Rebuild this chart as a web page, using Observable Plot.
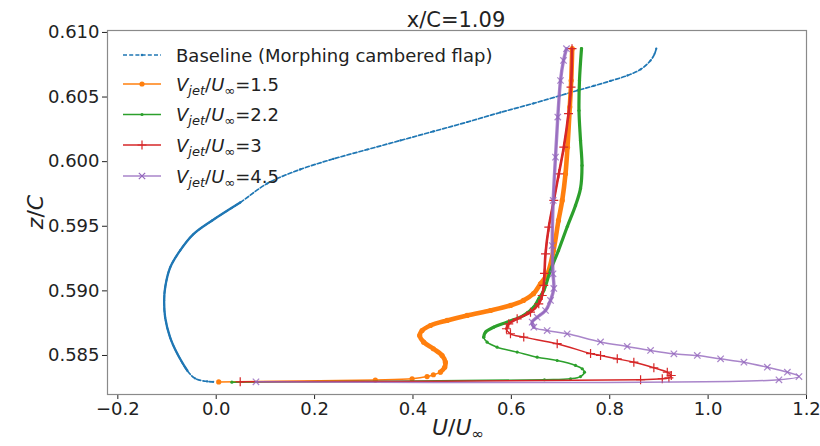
<!DOCTYPE html>
<html><head><meta charset="utf-8">
<script src="https://cdn.jsdelivr.net/npm/d3@7"></script>
<script src="https://cdn.jsdelivr.net/npm/@observablehq/plot@0.6"></script>
<style>html,body{margin:0;padding:0;background:#fff;} svg{display:block}</style>
</head><body><div id="chart"></div>
<script>
// ---- data (U/U∞ , z/C) ----
const titleText = "x/C=1.09";
const xTicks = [-0.2, 0.0, 0.2, 0.4, 0.6, 0.8, 1.0, 1.2];
const yTicks = [0.585, 0.590, 0.595, 0.600, 0.605, 0.610];

const baselineLabel = "Baseline (Morphing cambered flap)";
const jetRatios = ["1.5", "2.2", "3", "4.5"];

const baseU = [0.8946,0.8912,0.8830,0.8627,0.8362,0.8016,0.7671,0.7345,0.6999,0.6450,0.5778,0.5107,0.4415,0.3744,0.3072,0.2380,0.1709,0.1038,0.0488,-0.0081,-0.0468,-0.0732,-0.0936,-0.1038,-0.1058,-0.1038,-0.0936,-0.0793,-0.0590,-0.0427,-0.0183,-0.0061];
const baseZ = [0.60874,0.60835,0.60783,0.60714,0.60667,0.60625,0.60586,0.60551,0.60512,0.60451,0.60381,0.60307,0.60234,0.60164,0.60094,0.60021,0.59940,0.59831,0.59684,0.59545,0.59437,0.59313,0.59181,0.59026,0.58926,0.58794,0.58639,0.58516,0.58384,0.58322,0.58299,0.58296];

const u15 = [0.0051,0.3235,0.3982,0.4287,0.4415,0.4557,0.4645,0.4659,0.4592,0.4415,0.4218,0.4136,0.4185,0.4354,0.4694,0.5101,0.5575,0.5982,0.6246,0.6450,0.6592,0.6734,0.6857,0.6958,0.7034,0.7101,0.7141,0.7188,0.7217,0.7237];
const z15 = [0.58295,0.58310,0.58320,0.58337,0.58351,0.58371,0.58409,0.58448,0.58500,0.58552,0.58603,0.58655,0.58693,0.58732,0.58771,0.58810,0.58848,0.58887,0.58926,0.58978,0.59055,0.59132,0.59313,0.59545,0.59700,0.59906,0.60112,0.60422,0.60628,0.60874];

const u22 = [0.0319,0.6673,0.7203,0.7406,0.7487,0.7441,0.7304,0.6932,0.6525,0.6118,0.5711,0.5508,0.5438,0.5473,0.5642,0.5915,0.6252,0.6456,0.6557,0.6659,0.6795,0.6958,0.7140,0.7304,0.7406,0.7436,0.7406,0.7375,0.7385,0.7426];
const z22 = [0.58293,0.58312,0.58320,0.58337,0.58371,0.58397,0.58423,0.58461,0.58487,0.58526,0.58564,0.58603,0.58642,0.58680,0.58719,0.58758,0.58810,0.58874,0.58939,0.59003,0.59158,0.59313,0.59500,0.59661,0.59793,0.59971,0.60164,0.60396,0.60628,0.60874];

const u30 = [0.0488,0.8627,0.9068,0.9203,0.9251,0.9170,0.8897,0.8490,0.8153,0.7813,0.7610,0.6932,0.6252,0.5982,0.5900,0.5947,0.6118,0.6389,0.6557,0.6627,0.6659,0.6673,0.6694,0.6761,0.6863,0.6965,0.7066,0.7162,0.7213,0.7233];
const z30 = [0.58296,0.58312,0.58320,0.58327,0.58345,0.58371,0.58405,0.58448,0.58474,0.58500,0.58515,0.58591,0.58642,0.58668,0.58707,0.58745,0.58784,0.58835,0.58900,0.58964,0.59042,0.59135,0.59287,0.59493,0.59700,0.59906,0.60112,0.60371,0.60577,0.60874];

const u45 = [0.0808,1.1440,1.1847,1.1611,1.1204,1.0728,1.0254,0.9780,0.9304,0.8830,0.8356,0.7813,0.7135,0.6728,0.6456,0.6423,0.6525,0.6694,0.6796,0.6863,0.6847,0.6831,0.6851,0.6897,0.6944,0.6999,0.7060,0.7121];
const z45 = [0.58296,0.58312,0.58337,0.58371,0.58409,0.58448,0.58474,0.58500,0.58513,0.58539,0.58570,0.58605,0.58668,0.58693,0.58719,0.58758,0.58796,0.58848,0.58926,0.59019,0.59132,0.59351,0.59700,0.60035,0.60345,0.60628,0.60783,0.60874];

// ---- build tables ----
const toRows = (us, zs) => us.map((u, i) => ({u, z: zs[i]}));
const base = toRows(baseU, baseZ);
const jets = [
  {name: jetRatios[0], rows: toRows(u15, z15), color: "#ff7f0e", symbol: "circle", r: 2.6, fillDot: true, thick: 4.6, from: 0.5836, opacity: 1},
  {name: jetRatios[1], rows: toRows(u22, z22), color: "#2ca02c", symbol: "circle", r: 1.6, fillDot: true, thick: 3.2, from: 0.5863, opacity: 1},
  {name: jetRatios[2], rows: toRows(u30, z30), color: "#d62728", symbol: "plus", r: 3, fillDot: false, thick: 2.6, from: 0.5869, opacity: 1},
  {name: jetRatios[3], rows: toRows(u45, z45), color: "#9467bd", symbol: "times", r: 3, fillDot: false, thick: 3.4, from: 0.5870, opacity: 0.8}
];

const marks = [
  Plot.line(base, {x: "u", y: "z", stroke: "#1f77b4", strokeWidth: 1.7, strokeDasharray: "4,2.2", curve: "catmull-rom"}),
  Plot.line(base.filter(d => d.z > 0.5834 && d.z < 0.5976), {x: "u", y: "z", stroke: "#1f77b4", strokeWidth: 2.3, curve: "catmull-rom"}),
  Plot.dot(base, {x: "u", y: "z", r: 1.1, fill: "#1f77b4"})
];
for (const j of jets) {
  marks.push(Plot.line(j.rows, {x: "u", y: "z", stroke: j.color, strokeWidth: 1.5, strokeOpacity: j.opacity, curve: "catmull-rom"}));
  marks.push(Plot.line(j.rows.filter(d => d.z >= j.from), {x: "u", y: "z", stroke: j.color, strokeWidth: j.thick, strokeOpacity: j.opacity, curve: "catmull-rom"}));
  if (j.fillDot) marks.push(Plot.dot(j.rows, {x: "u", y: "z", r: j.r, fill: j.color, fillOpacity: j.opacity}));
  else marks.push(Plot.dot(j.rows, {x: "u", y: "z", r: j.r, symbol: j.symbol, stroke: j.color, strokeWidth: 1.2, strokeOpacity: j.opacity}));
}
marks.push(Plot.frame({stroke: "#8a8a8a", strokeWidth: 1.2}));

const chart = Plot.plot({
  width: 820, height: 446,
  marginTop: 30, marginRight: 14, marginBottom: 52, marginLeft: 107,
  style: {fontFamily: "DejaVu Sans, sans-serif", fontSize: "18px", color: "#222", background: "#fff"},
  x: {domain: [-0.221, 1.2], ticks: xTicks, tickFormat: d3.format(".1f"), tickSize: 5, tickPadding: 3, label: null},
  y: {domain: [0.58198, 0.61015], ticks: yTicks, tickFormat: d3.format(".3f"), tickSize: 5, tickPadding: 3, label: null},
  marks
});
document.getElementById("chart").appendChild(chart);

// ---- text with math-style sub/italics ----
const svg = d3.select(chart);
function mathText(sel, parts, size, subFrac) {
  let shift = 0;
  for (const p of parts) {
    const target = p.sub ? Math.round(size * subFrac) : 0;
    const t = sel.append("tspan").text(p.t).attr("dy", target - shift);
    shift = target;
    if (p.it) t.attr("font-style", "italic");
    if (p.sub) t.attr("font-size", Math.round(size * 0.7));
  }
}
svg.append("text").attr("x", 456).attr("y", 27).attr("text-anchor", "middle")
  .attr("font-size", 21).attr("fill", "#222").text(titleText);

const xl = svg.append("text").attr("x", 458).attr("y", 435).attr("text-anchor", "middle").attr("font-size", 22).attr("fill", "#222");
mathText(xl, [{t: "U", it: true}, {t: "/"}, {t: "U", it: true}, {t: "∞", sub: true}], 22, 0.16);

const yl = svg.append("text").attr("transform", "translate(43,212) rotate(-90)").attr("text-anchor", "middle").attr("font-size", 22).attr("fill", "#222");
mathText(yl, [{t: "z", it: true}, {t: "/"}, {t: "C", it: true}], 22, 0.2);

// ---- legend ----
const lg = svg.append("g").attr("text-anchor", "start");
const rowsY = [55, 84, 114.5, 145, 176];
const lx1 = 123, lx2 = 161, lmx = 142, tx = 176;
lg.append("line").attr("x1", lx1).attr("x2", lx2).attr("y1", rowsY[0]).attr("y2", rowsY[0])
  .attr("stroke", "#1f77b4").attr("stroke-width", 1.6).attr("stroke-dasharray", "4,2.2");
lg.append("circle").attr("cx", lmx).attr("cy", rowsY[0]).attr("r", 1.3).attr("fill", "#1f77b4");
lg.append("text").attr("x", tx).attr("y", rowsY[0] + 6.5).attr("text-anchor", "start").attr("font-size", 18).attr("fill", "#222").text(baselineLabel);
jets.forEach((j, k) => {
  const y = rowsY[k + 1];
  lg.append("line").attr("x1", lx1).attr("x2", lx2).attr("y1", y).attr("y2", y)
    .attr("stroke", j.color).attr("stroke-width", 1.5).attr("stroke-opacity", j.opacity);
  if (j.fillDot) lg.append("circle").attr("cx", lmx).attr("cy", y).attr("r", j.r).attr("fill", j.color);
  else {
    const sym = j.symbol === "plus" ? d3.symbolPlus : d3.symbolTimes;
    lg.append("path").attr("d", d3.symbol(sym, 28)()).attr("transform", `translate(${lmx},${y})`)
      .attr("fill", "none").attr("stroke", j.color).attr("stroke-width", 1.2);
  }
  const t = lg.append("text").attr("x", tx).attr("y", y + 6.5).attr("text-anchor", "start").attr("font-size", 18).attr("fill", "#222");
  mathText(t, [{t: "V", it: true}, {t: "jet", it: true, sub: true}, {t: "/"}, {t: "U", it: true}, {t: "∞", sub: true}, {t: "=" + j.name}], 18, 0.22);
});
</script>
</body></html>
